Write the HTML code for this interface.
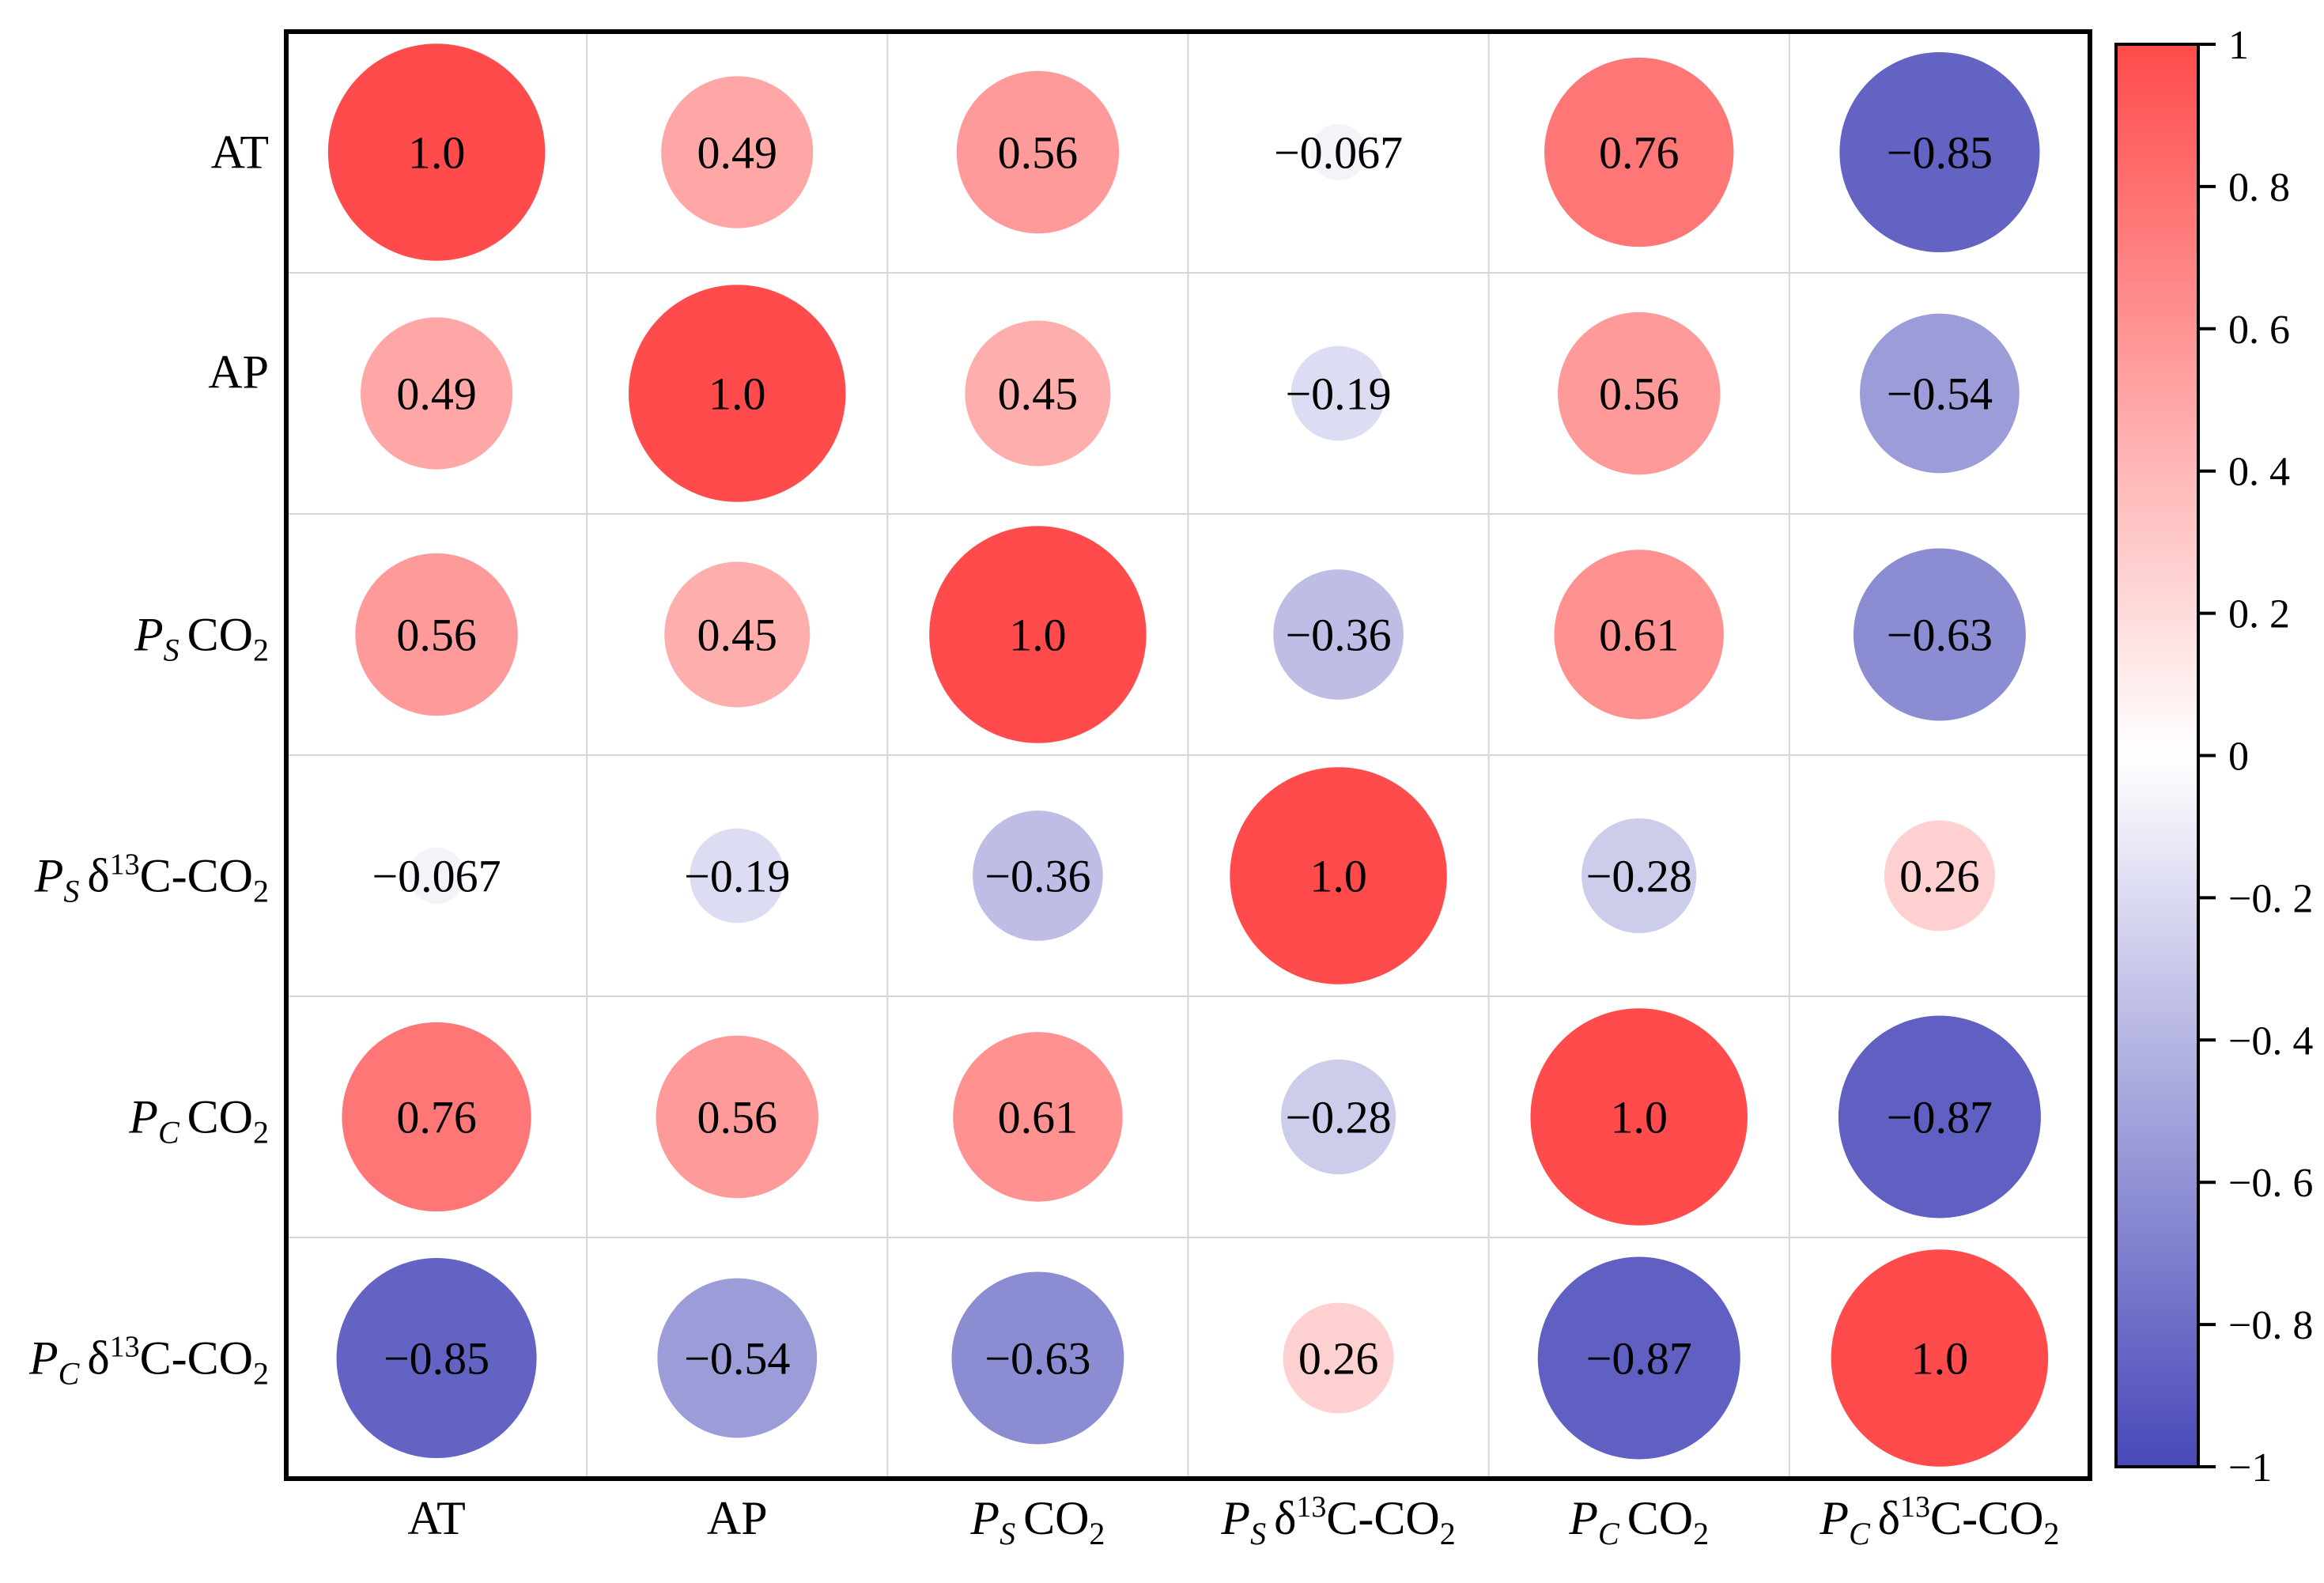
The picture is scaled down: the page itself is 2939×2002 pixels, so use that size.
<!DOCTYPE html>
<html><head><meta charset="utf-8">
<style>
html,body{margin:0;padding:0;background:#fff;}
svg{display:block;font-family:"Liberation Serif",serif;}
</style></head>
<body>
<svg id="chart" width="2939" height="2002" viewBox="0 0 2939 2002" xmlns="http://www.w3.org/2000/svg">
<defs>
<linearGradient id="cbgrad" x1="0" y1="0" x2="0" y2="1">
<stop offset="0" stop-color="rgb(255,75,75)"/>
<stop offset="0.5" stop-color="rgb(255,255,255)"/>
<stop offset="1" stop-color="rgb(72,72,185)"/>
</linearGradient>
</defs>
</svg>
<script>
const variables = ["AT","AP","PS CO2","PS d13C-CO2","PC CO2","PC d13C-CO2"];
const row0 = [1, 0.49, 0.56, -0.067, 0.76, -0.85];
const row1 = [0.49, 1, 0.45, -0.19, 0.56, -0.54];
const row2 = [0.56, 0.45, 1, -0.36, 0.61, -0.63];
const row3 = [-0.067, -0.19, -0.36, 1, -0.28, 0.26];
const row4 = [0.76, 0.56, 0.61, -0.28, 1, -0.87];
const row5 = [-0.85, -0.54, -0.63, 0.26, -0.87, 1];
const matrix = [row0,row1,row2,row3,row4,row5];
const colorbarTicks = [1, 0.8, 0.6, 0.4, 0.2, 0, -0.2, -0.4, -0.6, -0.8, -1];
const colorbarTickLabels = ["1","0. 8","0. 6","0. 4","0. 2","0","\u22120. 2","\u22120. 4","\u22120. 6","\u22120. 8","\u22121"];

const NS="http://www.w3.org/2000/svg";
const svg=document.getElementById('chart');
const L=362,T=40,R=2643,B=1870;
const n=variables.length;
const cw=(R-L)/n, ch=(B-T)/n;
const Dmax=0.9*ch;
function xc(i){return L+cw*(i+0.5);}
function yc(j){return T+ch*(j+0.5);}
function rad(v){return Dmax/2*Math.sqrt(Math.abs(v));}
function color(v){
  if(v>=0){const g=Math.round(255-180*v);return `rgb(255,${g},${g})`;}
  const a=-v;return `rgb(${Math.round(255-183*a)},${Math.round(255-183*a)},${Math.round(255-70*a)})`;
}
function fmt(v){
  if(Math.abs(v)===1) return (v<0?"\u2212":"")+"1.0";
  let s=Math.abs(v).toString(); if(s.indexOf('.')<0) s+=".0";
  return (v<0?"\u2212":"")+s;
}
function mk(tag,attrs){const e=document.createElementNS(NS,tag);for(const k in attrs)e.setAttribute(k,attrs[k]);return e;}

const grid=mk('g',{});


svg.appendChild(grid);
for(let i=1;i<n;i++){
  const lv=mk('line',{x1:L+cw*i,y1:T,x2:L+cw*i,y2:B,stroke:'#d6d6d6','stroke-width':2});
  
  
  grid.appendChild(lv);
  const lh=mk('line',{x1:L,y1:T+ch*i,x2:R,y2:T+ch*i,stroke:'#d6d6d6','stroke-width':2});
  
  
  grid.appendChild(lh);
}
for(let j=0;j<n;j++){for(let i=0;i<n;i++){
  const v=matrix[j][i];
  const c=mk('circle',{cx:xc(i),cy:yc(j),r:rad(v),fill:color(v)});
  
  
  svg.appendChild(c);
  const t=mk('text',{x:xc(i),y:yc(j)+20,'text-anchor':'middle','font-size':58,fill:'#000'});
  t.textContent=fmt(v);
  
  
  svg.appendChild(t);
}}
const fr=mk('rect',{x:L,y:T,width:R-L,height:B-T,fill:'none',stroke:'#000','stroke-width':6});


svg.appendChild(fr);

function label(idx,x,y,anchor){
  const t=mk('text',{x:x,y:y,'text-anchor':anchor,'font-size':60,fill:'#000'});
  const name=variables[idx];
  if(name==="AT"||name==="AP"){t.textContent=name;}
  else{
    const sub=name[1];
    const p=mk('tspan',{'font-style':'italic'});p.textContent='P';t.appendChild(p);
    const s=mk('tspan',{'font-style':'italic','font-size':40,dy:13});s.textContent=sub+' ';t.appendChild(s);
    if(name.indexOf('d13C')>=0){
      const d=mk('tspan',{dy:-13});d.textContent='\u03b4';t.appendChild(d);
      const sup=mk('tspan',{'font-size':38,dy:-22});sup.textContent='13';t.appendChild(sup);
      const cc=mk('tspan',{dy:22});cc.textContent='C-CO';t.appendChild(cc);
    } else {
      const cc=mk('tspan',{dy:-13});cc.textContent='CO';t.appendChild(cc);
    }
    const two=mk('tspan',{'font-size':40,dy:13});two.textContent='2';t.appendChild(two);
  }
  return t;
}
for(let j=0;j<n;j++){
  const off = variables[j]==="AP" ? -7 : 20;
  const t=label(j,340,yc(j)+off,'end');
  
  
  svg.appendChild(t);
}
for(let i=0;i<n;i++){
  const t=label(i,xc(i),1940,'middle');
  
  
  svg.appendChild(t);
}

const cbL=2676,cbR=2780,cbT=56,cbB=1855;
function cy(v){return cbT+(1-v)/2*(cbB-cbT);}
const cb=mk('rect',{x:cbL,y:cbT,width:cbR-cbL,height:cbB-cbT,fill:'url(#cbgrad)',stroke:'#000','stroke-width':4});


svg.appendChild(cb);
colorbarTicks.forEach((v,k)=>{
  const tk=mk('line',{x1:cbR,y1:cy(v),x2:cbR+22,y2:cy(v),stroke:'#000','stroke-width':4});
  
  
  svg.appendChild(tk);
  const tl=mk('text',{x:cbR+38,y:cy(v)+18,'font-size':52,fill:'#000'});
  tl.textContent=colorbarTickLabels[k];
  
  
  svg.appendChild(tl);
});
</script>
</body></html>
